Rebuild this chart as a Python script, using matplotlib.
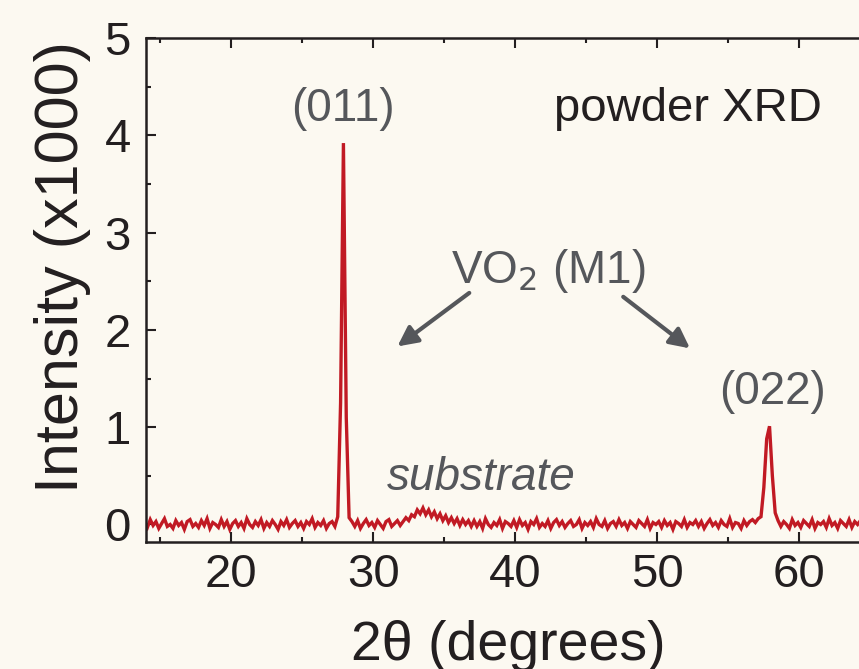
import numpy as np
import matplotlib.pyplot as plt
from matplotlib.ticker import MultipleLocator

plt.rcParams['font.family'] = ['Liberation Sans', 'DejaVu Sans']

# powder XRD trace, intensity in units of 1000 counts, sampled every 0.2 deg
# each segment: (start angle, values)
baseline_low = [0.02, -0.03, 0.05, -0.01, 0.03, -0.04, 0.01, 0.06, -0.02, 0.00,
                -0.04, 0.04, -0.01, 0.02, -0.05, 0.03, 0.05, -0.02, 0.01, -0.03,
                0.04, -0.01, 0.06, -0.04, 0.02, 0.00, -0.03, 0.05, -0.02, 0.03,
                -0.05, 0.01, 0.04, -0.02, 0.02, -0.04, 0.06, 0.00, -0.03, 0.03,
                -0.01, 0.05, -0.04, 0.02, -0.02, 0.04, 0.00, -0.05, 0.03, -0.01,
                0.05, -0.03, 0.01, 0.04, -0.02, 0.02, -0.04, 0.03, 0.00, 0.06,
                -0.03, 0.02, -0.01, 0.04, -0.04, 0.01, 0.03, -0.02]
peak_011 = [0.08, 1.25, 3.92, 1.10, 0.07]
baseline_mid = [0.03, -0.02, 0.04, -0.04, 0.01, 0.05, -0.01, 0.02, -0.03,
                0.04, 0.00, -0.04, 0.03, 0.05, -0.02, 0.01, 0.04, -0.01]
substrate_bump = [0.03, 0.07, 0.04, 0.10, 0.08, 0.15, 0.11, 0.17, 0.10, 0.15,
                  0.08, 0.13, 0.06, 0.11, 0.04, 0.09, 0.02, 0.07, 0.01, 0.06,
                  -0.01, 0.05, 0.00, 0.04, -0.02]
baseline_high = [0.04, -0.02, 0.03, -0.04, 0.06, 0.00, -0.03, 0.02, -0.01, 0.05,
                 -0.04, 0.03, 0.01, -0.02, 0.04, -0.03, 0.05, -0.01, 0.02, -0.05,
                 0.03, 0.00, 0.06, -0.03, 0.01, -0.02, 0.04, -0.04, 0.02, 0.05,
                 -0.01, 0.03, -0.03, 0.01, 0.04, -0.02, 0.00, 0.05, -0.04, 0.02,
                 -0.01, 0.03, -0.03, 0.06, 0.00, -0.02, 0.04, -0.04, 0.01, 0.03,
                 -0.02, 0.05, -0.01, 0.02, -0.04, 0.03, 0.00, -0.03, 0.04, 0.01,
                 -0.02, 0.05, -0.04, 0.02, 0.00, 0.03, -0.03, 0.04, -0.01, 0.02,
                 -0.05, 0.03, 0.01, -0.02, 0.05, -0.03, 0.02, 0.00, 0.04, -0.02,
                 0.03, -0.04, 0.01, 0.05, -0.01, 0.02, -0.03, 0.04, 0.00, -0.02,
                 0.06, -0.03, 0.02, 0.01, -0.04, 0.04, -0.01, 0.03, 0.05, 0.02,
                 0.06]
peak_022 = [0.08, 0.38, 0.88, 1.01, 0.50, 0.12]
baseline_end = [0.04, -0.02, 0.03, 0.00, -0.04, 0.05, -0.01, 0.02, -0.03, 0.04,
                0.01, -0.02, 0.05, -0.04, 0.02, 0.00, 0.03, -0.03, 0.06, -0.01,
                0.02, -0.04, 0.04, 0.01, -0.02, 0.05, -0.03, 0.03, 0.00, 0.04]

segments = [(13.9, baseline_low), (27.5, peak_011), (28.5, baseline_mid),
            (32.1, substrate_bump), (37.1, baseline_high), (57.3, peak_022),
            (58.5, baseline_end)]
step = 0.2

two_theta = np.concatenate([s + step * np.arange(len(v)) for s, v in segments])
intensity = np.concatenate([np.array(v, dtype=float) for s, v in segments])

bg = '#fcf9f1'
red = '#c11a24'
gray = '#55575b'
ink = '#231f20'

fig = plt.figure(figsize=(8.59, 6.69), dpi=100, facecolor=bg)
ax = fig.add_axes([146 / 859, 127 / 669, 1 - 146 / 859, 504 / 669])
ax.set_facecolor('none')

ax.plot(two_theta, intensity, color=red, lw=2.4, solid_joinstyle='miter')

ax.set_xlim(14.0, 64.2)
ax.set_ylim(-0.18, 5.0)
ax.xaxis.set_major_locator(MultipleLocator(10))
ax.xaxis.set_minor_locator(MultipleLocator(5))
ax.yaxis.set_major_locator(MultipleLocator(1))
ax.yaxis.set_minor_locator(MultipleLocator(0.5))

ax.spines['right'].set_visible(False)
for sp in ['left', 'bottom', 'top']:
    ax.spines[sp].set_linewidth(1.8)
    ax.spines[sp].set_color(ink)

ax.tick_params(which='both', direction='in', top=True, right=False,
               color=ink, width=1.5, labelsize=34, labelcolor=ink)
ax.tick_params(which='major', length=7.5)
ax.tick_params(which='minor', length=3.5)
ax.tick_params(axis='x', pad=8)
ax.tick_params(axis='y', pad=11)

# axis labels
fig.text(508 / 859, 9 / 669, '2\u03b8 (degrees)', fontsize=40, color=ink,
         ha='center', va='baseline')
fig.text(78 / 859, 1 - 267 / 669, 'Intensity (x1000)', fontsize=44, color=ink,
         rotation=90, rotation_mode='anchor', ha='center', va='baseline')

# annotations
ax.text(27.9, 4.145, '(011)', fontsize=33, color=gray, ha='center', va='baseline')
ax.text(52.15, 4.145, 'powder XRD', fontsize=34, color=ink, ha='center', va='baseline')
ax.text(42.3, 2.48, 'VO$_2$ (M1)', fontsize=33, color=gray, ha='center', va='baseline')
ax.text(58.1, 1.24, '(022)', fontsize=33, color=gray, ha='center', va='baseline')
ax.text(37.6, 0.356, 'substrate', fontsize=33, color=gray, style='italic',
        ha='center', va='baseline')

arrow = dict(arrowstyle='-|>', lw=3, color=gray, mutation_scale=30,
             shrinkA=0, shrinkB=0)
ax.annotate('', xy=(31.7, 1.83), xytext=(36.76, 2.38), arrowprops=arrow)
ax.annotate('', xy=(52.3, 1.81), xytext=(47.6, 2.34), arrowprops=arrow)

fig.savefig('out.png', dpi=100, facecolor=bg)
